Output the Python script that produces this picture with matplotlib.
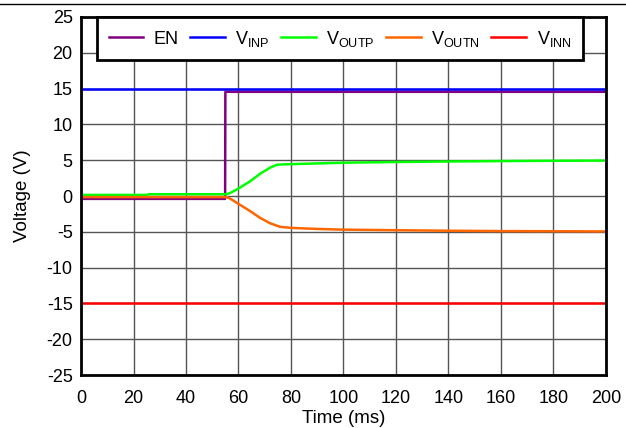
import matplotlib
matplotlib.use("Agg")
import matplotlib.pyplot as plt
from matplotlib.lines import Line2D

plt.rcParams['font.family'] = ['Liberation Sans', 'DejaVu Sans']
plt.rcParams['axes.unicode_minus'] = False

t_en = [0, 54.9, 55.0, 200]
v_en = [-0.4, -0.4, 14.55, 14.55]

t_inp = [0, 200]
v_inp = [15.0, 15.0]

t_outp = [0, 25, 26, 55.4, 57, 59.3, 62, 64.4, 68.2, 72, 74.5, 77, 80, 90, 100, 120, 140, 160, 180, 200]
v_outp = [0.15, 0.15, 0.25, 0.25, 0.45, 0.9, 1.5, 2.05, 3.1, 3.95, 4.35, 4.42, 4.45, 4.55, 4.65, 4.75, 4.82, 4.88, 4.92, 4.95]

t_outn = [0, 55.4, 57, 60, 64.4, 68, 72, 75.8, 80, 90, 100, 120, 140, 160, 180, 200]
v_outn = [-0.15, -0.15, -0.4, -1.1, -2.1, -3.0, -3.8, -4.3, -4.45, -4.6, -4.7, -4.78, -4.85, -4.9, -4.92, -4.95]

t_inn = [0, 200]
v_inn = [-15.0, -15.0]

labels = ['EN', r'V$_\mathregular{INP}$', r'V$_\mathregular{OUTP}$',
          r'V$_\mathregular{OUTN}$', r'V$_\mathregular{INN}$']
colors = ['#800080', '#0000FF', '#00FF00', '#FF6600', '#FF0000']

fig = plt.figure(figsize=(6.26, 4.28), dpi=100)
ax = fig.add_axes([0.1294, 0.1238, 0.8386, 0.8365])

series = [(t_en, v_en), (t_inp, v_inp), (t_outp, v_outp), (t_outn, v_outn), (t_inn, v_inn)]
for (t, v), lab, c in zip(series, labels, colors):
    ax.plot(t, v, color=c, lw=1.8, label=lab)

ax.set_xlim(0, 200)
ax.set_ylim(-25, 25)
ax.set_xticks(range(0, 201, 20))
ax.set_yticks(range(-25, 26, 5))
ax.tick_params(axis='both', length=0, labelsize=13)
ax.tick_params(axis='x', pad=11)
ax.tick_params(axis='y', pad=6)
ax.grid(True, color='#555555', lw=1)
ax.set_axisbelow(True)
for s in ax.spines.values():
    s.set_linewidth(2)

ax.set_xlabel('Time (ms)', fontsize=13.5, labelpad=2)
ax.set_ylabel('Voltage (V)', fontsize=13.5, labelpad=11)

leg = ax.legend(loc='upper left', bbox_to_anchor=(0.0305, 0.0, 0.926, 1.0),
                mode='expand', ncol=5, fontsize=13, frameon=True, fancybox=False,
                framealpha=1, edgecolor='black', borderaxespad=0,
                handlelength=1.9, handletextpad=0.6, borderpad=0.65)
leg.get_frame().set_linewidth(2)

# rule across the top of the image
fig.add_artist(Line2D([0, 1], [0.9907, 0.9907], color='black', lw=1,
                      transform=fig.transFigure))

fig.savefig('out.png', dpi=100)
